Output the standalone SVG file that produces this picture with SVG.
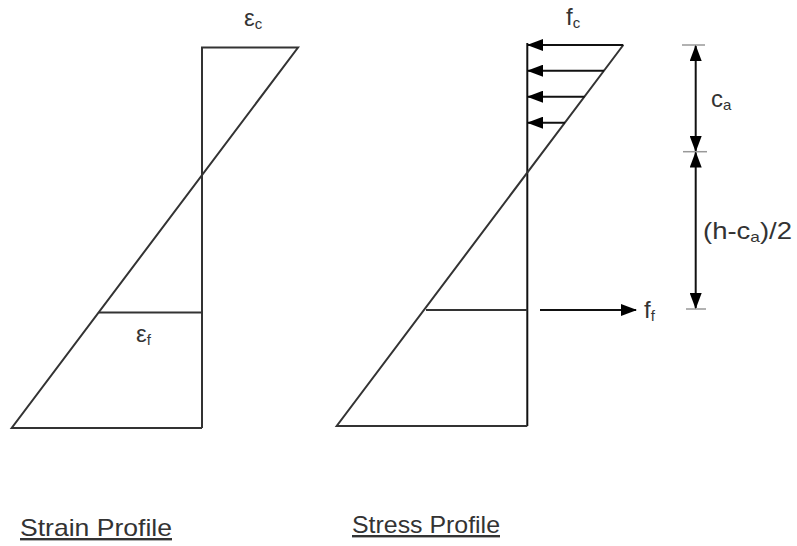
<svg xmlns="http://www.w3.org/2000/svg" width="797" height="546" viewBox="0 0 797 546">
<style>
  .ln { stroke: #333; stroke-width: 2; fill: none; }
  .lk { stroke: #111; stroke-width: 2; fill: none; }
  .tick { stroke: #999; stroke-width: 1.5; }
  .t { font-family: "Liberation Sans", Arial, sans-serif; fill: #333; }
  .lbl { font-size: 24px; }
  .sub { font-size: 15px; }
  .title { font-size: 24px; text-decoration: underline; }
</style>
<defs>
  <marker id="ah" viewBox="0 0 16 12" refX="15" refY="6" markerWidth="16" markerHeight="12" markerUnits="userSpaceOnUse" orient="auto">
    <path d="M0,0 L16,6 L0,12 Z" fill="#000"/>
  </marker>
</defs>
<rect width="797" height="546" fill="#fff"/>

<g id="strain-profile">
  <polyline class="ln" points="202,428 202,47.5 298,47.5 11.7,428 202,428"/>
  <line class="ln" x1="99" y1="312.5" x2="202" y2="312.5"/>
  <text class="t lbl" x="244" y="26">ε<tspan class="sub" dy="3">c</tspan></text>
  <text class="t lbl" x="136" y="342">ε<tspan class="sub" dy="3">f</tspan></text>
</g>

<g id="stress-profile">
  <polyline class="lk" points="527.3,426 527.3,43" />
  <polyline class="ln" points="623.3,45 336.7,426 527.3,426"/>
  <line class="ln" x1="426" y1="310" x2="527.3" y2="310"/>
  <text class="t lbl" x="566" y="25">f<tspan class="sub" dy="3">c</tspan></text>
  <text class="t lbl" x="644" y="318">f<tspan class="sub" dy="3">f</tspan></text>
</g>

<g id="connectors">
  <line class="lk" x1="623.3" y1="45" x2="528" y2="45" marker-end="url(#ah)"/>
  <line class="lk" x1="604" y1="70.7" x2="528" y2="70.7" marker-end="url(#ah)"/>
  <line class="lk" x1="584.5" y1="96.7" x2="528" y2="96.7" marker-end="url(#ah)"/>
  <line class="lk" x1="565" y1="122.7" x2="528" y2="122.7" marker-end="url(#ah)"/>
  <line class="lk" x1="540" y1="310" x2="636" y2="310" marker-end="url(#ah)"/>
</g>

<g id="dimension-ca">
  <line class="tick" x1="682" y1="45" x2="705" y2="45"/>
  <line class="lk" x1="695.7" y1="98" x2="695.7" y2="46" marker-end="url(#ah)"/>
  <line class="lk" x1="695.7" y1="98" x2="695.7" y2="151" marker-end="url(#ah)"/>
  <text class="t lbl" x="711" y="107">c<tspan class="sub" dy="3">a</tspan></text>
</g>

<g id="dimension-h">
  <line class="tick" x1="683" y1="151.7" x2="707" y2="151.7"/>
  <line class="tick" x1="686" y1="309" x2="706" y2="309"/>
  <line class="lk" x1="695.7" y1="230" x2="695.7" y2="152.5" marker-end="url(#ah)"/>
  <line class="lk" x1="695.7" y1="230" x2="695.7" y2="308" marker-end="url(#ah)"/>
  <text class="t lbl" x="703" y="239" textLength="89" lengthAdjust="spacingAndGlyphs">(h-c<tspan class="sub" dy="3">a</tspan><tspan dy="-3">)/2</tspan></text>
</g>

<g id="titles">
  <text class="t title" x="20" y="536" textLength="152" lengthAdjust="spacingAndGlyphs">Strain Profile</text>
  <text class="t title" x="352" y="533" textLength="148" lengthAdjust="spacingAndGlyphs">Stress Profile</text>
</g>
</svg>
